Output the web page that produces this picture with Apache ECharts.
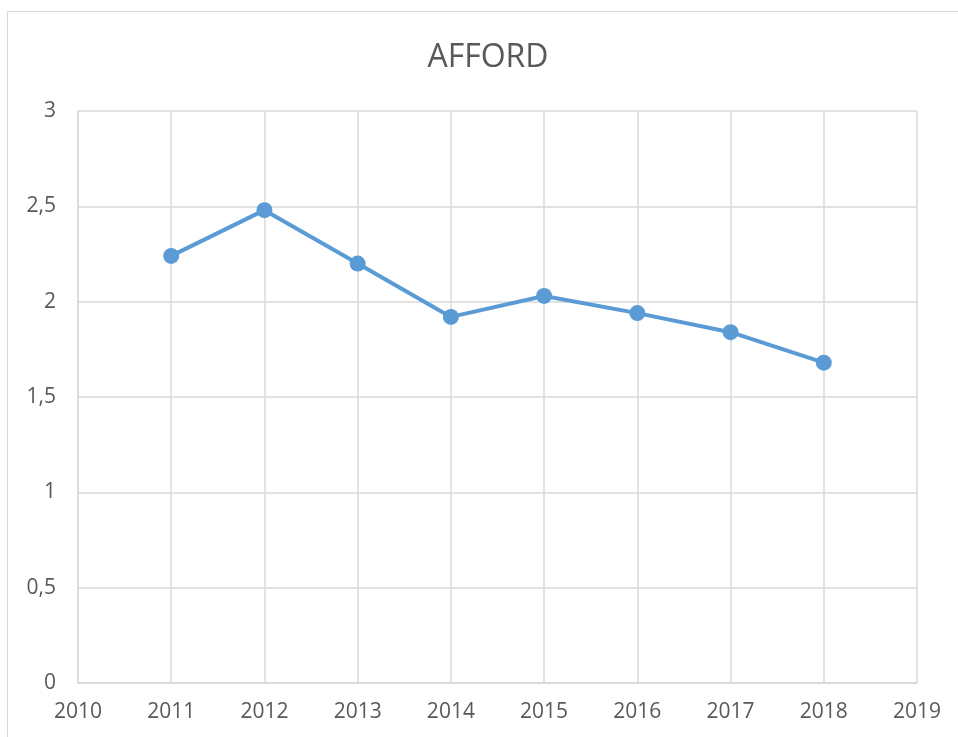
<!DOCTYPE html>
<html>
<head>
<meta charset="utf-8">
<script src="https://cdn.jsdelivr.net/npm/echarts@6/dist/echarts.min.js"></script>
<style>
    html, body { margin: 0; padding: 0; background: #fff; }
    #afford_chart { width: 958px; height: 737px; }
</style>
</head>
<body>
<div id="afford_chart"></div>
<script>
const years = [2011, 2012, 2013, 2014, 2015, 2016, 2017, 2018];
const affordValues = [2.24, 2.48, 2.2, 1.92, 2.03, 1.94, 1.84, 1.68];
const xRange = [2010, 2019];
const yRange = [0, 3];

const textColor = "#595959";
const gridColor = "#d9d9d9";
const lineColor = "#5b9bd5";
const fontFamily = "'Open Sans', 'Liberation Sans', sans-serif";

const drawAffordChart = () => {
    const chart = echarts.init(document.getElementById("afford_chart"));

    const option = {
        animation: false,
        title: {
            text: "AFFORD",
            left: 483,
            textAlign: "center",
            top: 37,
            textStyle: {
                fontFamily,
                fontSize: 32,
                fontWeight: "normal",
                color: textColor
            }
        },
        graphic: [{
            type: "rect",
            shape: { x: 7.5, y: 11.5, width: 1000, height: 1000 },
            style: { fill: null, stroke: gridColor, lineWidth: 1 },
            silent: true
        }],
        grid: {
            left: 78,
            right: 41,
            top: 111,
            bottom: 54,
            containLabel: false
        },
        xAxis: {
            type: "value",
            min: xRange[0],
            max: xRange[1],
            interval: 1,
            axisLine: { show: true, lineStyle: { color: gridColor, width: 1.5 } },
            axisTick: { show: false },
            splitLine: { show: true, lineStyle: { color: gridColor, width: 1.5 } },
            axisLabel: {
                margin: 19,
                fontFamily,
                fontSize: 21,
                color: textColor,
                formatter: (v) => String(v)
            }
        },
        yAxis: {
            type: "value",
            min: yRange[0],
            max: yRange[1],
            interval: 0.5,
            axisLine: { show: true, lineStyle: { color: gridColor, width: 1.5 } },
            axisTick: { show: false },
            splitLine: { show: true, lineStyle: { color: gridColor, width: 1.5 } },
            axisLabel: {
                margin: 22,
                fontFamily,
                fontSize: 21,
                color: textColor,
                formatter: (v) => String(v).replace(".", ",")
            }
        },
        series: [{
            name: "AFFORD",
            type: "line",
            data: years.map((y, i) => [y, affordValues[i]]),
            symbol: "circle",
            symbolSize: 16,
            lineStyle: { color: lineColor, width: 4 },
            itemStyle: { color: lineColor }
        }]
    };

    chart.setOption(option);
};

document.addEventListener("DOMContentLoaded", () => {
    drawAffordChart();
});
</script>
</body>
</html>
